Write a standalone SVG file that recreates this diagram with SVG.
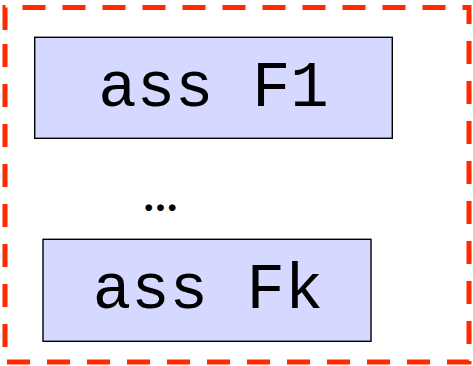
<svg xmlns="http://www.w3.org/2000/svg" width="473" height="366" viewBox="0 0 473 366">
  <style>
    .frame { fill: none; stroke: #ff2a00; stroke-width: 5; stroke-dasharray: 23 17; }
    .box { fill: #d5d8ff; stroke: #000; stroke-width: 1.4; }
    .label { font-family: "Liberation Mono", "DejaVu Sans Mono", monospace; font-size: 64px; fill: #000; text-anchor: middle; }
    .dots { font-family: Lato, "Liberation Sans", sans-serif; font-size: 44px; font-weight: bold; fill: #000; text-anchor: middle; }
  </style>
  <rect width="473" height="366" fill="#fff"/>
  <!-- dashed enclosing frame -->
  <path class="frame" d="M5,30 V7.5 H469 V362 H5 Z"/>
  <g id="node-f1">
    <rect class="box" x="34.7" y="37.3" width="357.6" height="101"/>
    <text class="label" x="213.5" y="106">ass F1</text>
  </g>
  <g id="ellipsis">
    <text class="dots" x="160.5" y="211">…</text>
  </g>
  <g id="node-fk">
    <rect class="box" x="43" y="239.3" width="328" height="102"/>
    <text class="label" x="208" y="308">ass Fk</text>
  </g>
  <g id="connectors"/>
</svg>
